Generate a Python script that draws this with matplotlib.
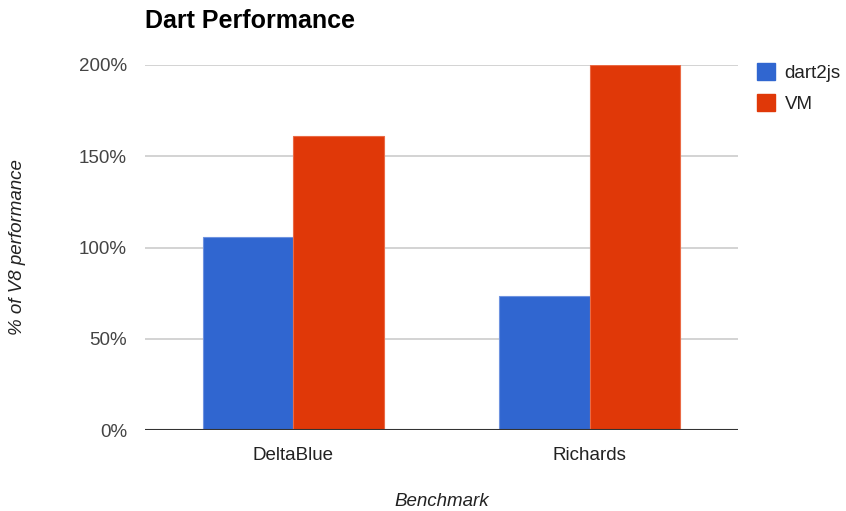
import numpy as np
from matplotlib import pyplot as plt
from matplotlib.patches import Patch

benchmarks = ['DeltaBlue', 'Richards']
series = ['dart2js', 'VM']
dart2js = [106, 73.5]
vm = [161, 200]
yticks = [0, 50, 100, 150, 200]
colors = ['#3066D0', '#E03808']

plt.rcParams['font.family'] = ['Liberation Sans', 'DejaVu Sans']

fig = plt.figure(figsize=(8.46, 5.11), dpi=100)
ax = fig.add_axes([0.1714, 0.1585, 0.7009, 0.7143])

x = np.arange(len(benchmarks))
w = 0.305
ax.bar(x - w / 2, dart2js, w, color=colors[0], edgecolor='#6f93e0', linewidth=0.8, zorder=3)
ax.bar(x + w / 2, vm, w, color=colors[1], edgecolor='#ea6a45', linewidth=0.8, zorder=3)

ax.set_xlim(-0.5, 1.5)
ax.set_ylim(0, 200)
ax.set_yticks(yticks)
ax.set_yticklabels(['%d%%' % t for t in yticks])
ax.set_xticks(x)
ax.set_xticklabels(benchmarks)
ax.tick_params(length=0, labelsize=13.5, colors='#444444')
ax.tick_params(axis='y', pad=13)
ax.tick_params(axis='x', pad=12, labelcolor='#222222')
for sp in ax.spines.values():
    sp.set_visible(False)
ax.grid(axis='y', color='#cccccc', linewidth=1.2, zorder=0)
ax.axhline(0, color='#333333', linewidth=1.5, zorder=4)

ax.set_ylabel('% of V8 performance', fontsize=13.5, style='italic', color='#222222', labelpad=38)
ax.set_xlabel('Benchmark', fontsize=13.5, style='italic', color='#222222', labelpad=21)

fig.text(0.1714, 0.958, 'Dart Performance', fontsize=18, fontweight='bold', va='center', ha='left')

handles = [Patch(facecolor=c, edgecolor=c) for c in colors]
fig.legend(handles, series, loc='upper left', bbox_to_anchor=(0.8744, 0.909), frameon=False,
           fontsize=13.5, handlelength=1.0, handleheight=1.0, handletextpad=0.5, labelspacing=0.64,
           labelcolor='#222222')

fig.savefig('out.png')
